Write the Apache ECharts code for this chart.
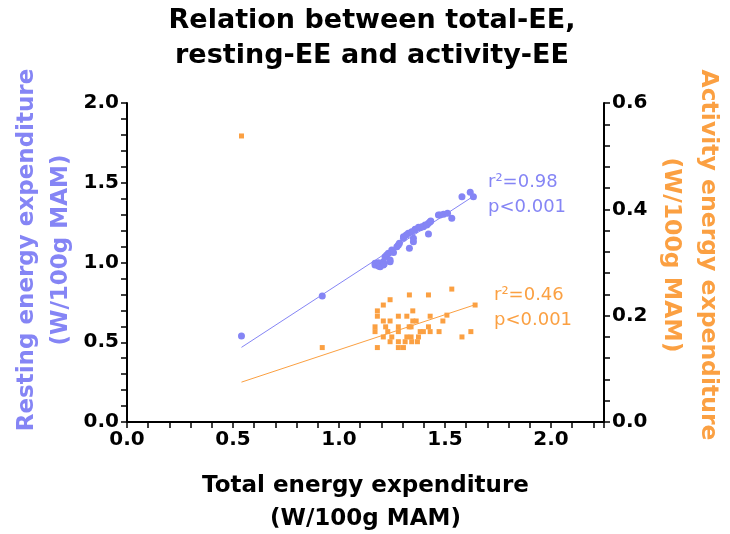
<!DOCTYPE html>
<html>
<head>
<meta charset="utf-8">
<script src="https://cdn.jsdelivr.net/npm/echarts@6/dist/echarts.min.js"></script>
<style>html,body{margin:0;padding:0;background:#fff}#c{width:730px;height:534px}</style>
</head>
<body>
<div id="c"></div>
<script>
// ---- data ----
const blueX = [0.540,0.921,1.170,1.170,1.186,1.186,1.194,1.209,1.209,1.213,1.217,1.225,1.233,1.241,1.241,1.249,1.257,1.273,1.280,1.285,1.304,1.304,1.317,1.327,1.332,1.343,1.351,1.351,1.359,1.359,1.375,1.383,1.391,1.398,1.406,1.414,1.422,1.422,1.430,1.433,1.469,1.477,1.493,1.512,1.532,1.580,1.619,1.634];
const blueY = [0.539,0.790,0.984,0.995,0.978,0.999,0.974,1.005,0.984,0.990,1.036,1.047,1.058,1.005,1.016,1.078,1.062,1.099,1.110,1.120,1.162,1.152,1.172,1.183,1.089,1.193,1.130,1.152,1.208,1.204,1.221,1.218,1.224,1.224,1.235,1.235,1.246,1.179,1.256,1.260,1.298,1.298,1.302,1.308,1.277,1.413,1.440,1.413];
const orangeX = [0.540,0.921,1.532,1.332,1.422,1.241,1.209,1.181,1.181,1.280,1.320,1.348,1.430,1.509,1.642,1.209,1.241,1.348,1.364,1.490,1.170,1.220,1.280,1.331,1.340,1.422,1.170,1.230,1.280,1.383,1.398,1.430,1.472,1.622,1.209,1.249,1.320,1.340,1.375,1.580,1.241,1.280,1.312,1.343,1.370,1.181,1.280,1.304];
const orangeY = [0.538,0.140,0.250,0.239,0.239,0.230,0.220,0.209,0.199,0.199,0.199,0.209,0.199,0.201,0.220,0.190,0.190,0.190,0.190,0.190,0.179,0.179,0.179,0.179,0.179,0.179,0.170,0.170,0.170,0.170,0.170,0.170,0.170,0.170,0.160,0.160,0.160,0.160,0.160,0.160,0.151,0.151,0.151,0.151,0.151,0.140,0.140,0.140];
const blueFitX = [0.54, 1.645];
const blueFitY = [0.468, 1.425];
const orangeFitX = [0.54, 1.645];
const orangeFitY = [0.075, 0.221];
const xTicks = [0.0, 0.5, 1.0, 1.5, 2.0];
const yLeftTicks = [0.0, 0.5, 1.0, 1.5, 2.0];
const yRightTicks = [0.0, 0.2, 0.4, 0.6];

const BLUE = '#8585F5';
const ORANGE = '#FBA042';
const FONT = 'DejaVu Sans';

const zip = (a, b) => a.map((v, i) => [v, b[i]]);
const onTick = (list) => (v) => {
  const hit = list.find(t => Math.abs(t - v) < 1e-6);
  return hit === undefined ? '' : hit.toFixed(1);
};

const axisCommon = {
  axisLine: {show: true, onZero: false, lineStyle: {color: '#000', width: 2}},
  axisTick: {show: true, inside: false, interval: 0, length: 6, lineStyle: {color: '#000', width: 1.5}},
  splitLine: {show: false},
  axisLabel: {color: '#000', fontFamily: FONT, fontWeight: 'bold', fontSize: 20, showMaxLabel: true}
};

const chart = echarts.init(document.getElementById('c'), null, {renderer: 'canvas'});
chart.setOption({
  animation: false,
  backgroundColor: '#fff',
  grid: {left: 127, right: 126, top: 103, bottom: 112, containLabel: false, outerBoundsMode: 'none'},
  xAxis: Object.assign({}, axisCommon, {
    type: 'value', min: 0, max: 2.25, interval: 0.1,
    axisLabel: Object.assign({}, axisCommon.axisLabel, {margin: 8, formatter: onTick(xTicks)}),
    name: 'Total energy expenditure\n(W/100g MAM)',
    nameLocation: 'middle', nameGap: 48,
    nameTextStyle: {fontFamily: FONT, fontWeight: 'bold', fontSize: 23, lineHeight: 33, color: '#000'}
  }),
  yAxis: [
    Object.assign({}, axisCommon, {
      type: 'value', min: 0, max: 2, interval: 0.1, position: 'left',
      axisLabel: Object.assign({}, axisCommon.axisLabel, {margin: 8, formatter: onTick(yLeftTicks)})
    }),
    Object.assign({}, axisCommon, {
      type: 'value', min: 0, max: 0.6, interval: 0.04, position: 'right',
      axisLabel: Object.assign({}, axisCommon.axisLabel, {margin: 8, formatter: onTick(yRightTicks)})
    })
  ],
  series: [
    {
      type: 'line', yAxisIndex: 0, data: zip(blueFitX, blueFitY),
      symbol: 'none', lineStyle: {color: BLUE, width: 1}, z: 1, silent: true
    },
    {
      type: 'line', yAxisIndex: 1, data: zip(orangeFitX, orangeFitY),
      symbol: 'none', lineStyle: {color: ORANGE, width: 1}, z: 1, silent: true
    },
    {
      type: 'scatter', yAxisIndex: 0, data: zip(blueX, blueY),
      symbol: 'circle', symbolSize: 7, itemStyle: {color: BLUE, opacity: 1}, z: 3
    },
    {
      type: 'scatter', yAxisIndex: 1, data: zip(orangeX, orangeY),
      symbol: 'rect', symbolSize: 5, itemStyle: {color: ORANGE, opacity: 1}, z: 2
    }
  ],
  graphic: [
    {type: 'text', x: 372, y: 3, style: {text: 'Relation between total-EE,\nresting-EE and activity-EE', fill: '#000', font: 'bold 27px "DejaVu Sans"', lineHeight: 35, align: 'center', verticalAlign: 'top'}},
    {type: 'text', x: 44, y: 250, rotation: Math.PI / 2, style: {text: 'Resting energy expenditure\n(W/100g MAM)', fill: BLUE, font: 'bold 23px "DejaVu Sans"', lineHeight: 34, align: 'center', verticalAlign: 'middle'}},
    {type: 'text', x: 690, y: 255, rotation: -Math.PI / 2, style: {text: 'Activity energy expenditure\n(W/100g MAM)', fill: ORANGE, font: 'bold 23.5px "DejaVu Sans"', lineHeight: 37, align: 'center', verticalAlign: 'middle'}},
    {type: 'text', left: 488, top: 170, style: {text: 'r²=0.98\np<0.001', fill: BLUE, font: '18px "DejaVu Sans"', lineHeight: 25}},
    {type: 'text', left: 494, top: 283, style: {text: 'r²=0.46\np<0.001', fill: ORANGE, font: '18px "DejaVu Sans"', lineHeight: 25}}
  ]
});
</script>
</body>
</html>
